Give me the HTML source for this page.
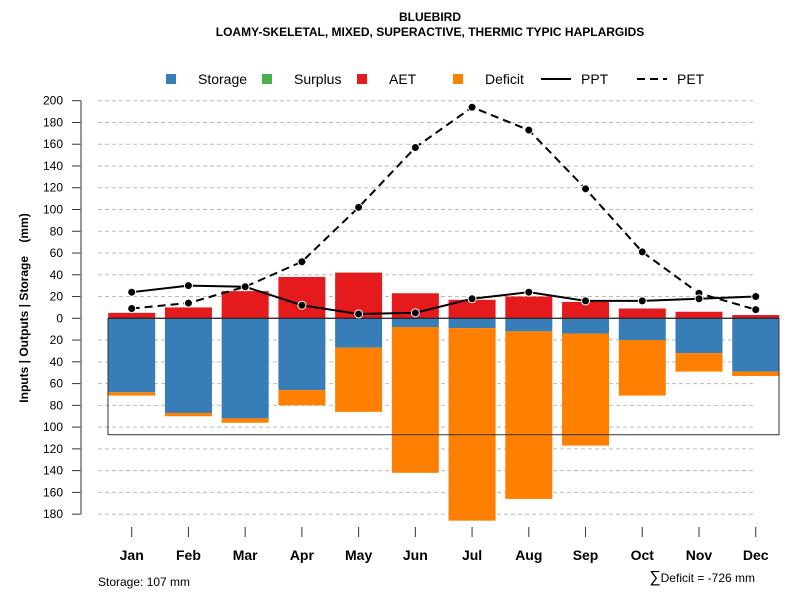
<!DOCTYPE html>
<html><head><meta charset="utf-8"><style>
body{margin:0;background:#fff;font-family:"Liberation Sans",sans-serif}
svg{display:block}
</style></head><body>
<svg id="c" width="800" height="600" font-family="Liberation Sans, sans-serif">
<text x="430" y="21" text-anchor="middle" font-size="12" font-weight="bold">BLUEBIRD</text>
<text x="430" y="36" text-anchor="middle" font-size="12" font-weight="bold">LOAMY-SKELETAL, MIXED, SUPERACTIVE, THERMIC TYPIC HAPLARGIDS</text>
<text transform="translate(28,308) rotate(-90)" text-anchor="middle" font-size="12" font-weight="bold">Inputs | Outputs | Storage &#160;&#160;&#160;(mm)</text>
<text x="98" y="586" font-size="12">Storage: 107 mm</text>
<text x="755" y="582" text-anchor="end" font-size="12"><tspan font-size="16">∑</tspan>Deficit = -726 mm</text>
<g id="legend"></g>
<g id="grid"></g><g id="bars"></g><g id="lines"></g><g id="axes"></g>
</svg>
<script>
const months=["Jan","Feb","Mar","Apr","May","Jun","Jul","Aug","Sep","Oct","Nov","Dec"];
const aet=[5,10,25,38,42,23,17,20,15,9,6,3];
const storage=[68,87,92,66,27,8,9,12,14,20,32,49];
const deficit=[3,3,4,14,59,134,177,154,103,51,17,4];
const ppt=[24,30,29,12,4,5,18,24,16,16,18,20];
const pet=[9,14,29,52,102,157,194,173,119,61,23,8];
const yTicks=[200,180,160,140,120,100,80,60,40,20,0,20,40,60,80,100,120,140,160,180];
const storageCap=107;
const NS="http://www.w3.org/2000/svg";
function y(v){return 318.3-v*1.088;}
function x(i){return 131.7+i*56.73;}
function mk(p,t,a){const e=document.createElementNS(NS,t);for(const k in a)e.setAttribute(k,a[k]);p.appendChild(e);return e;}
const G=document.getElementById('grid'),B=document.getElementById('bars'),L=document.getElementById('lines'),A=document.getElementById('axes'),LG=document.getElementById('legend');
yTicks.forEach((t,i)=>{const v=i<=10?t:-t;const yy=y(v);
 if(v!==0){const g=mk(G,'line',{x1:98,x2:755,y1:yy,y2:yy,stroke:'#bbb','stroke-dasharray':'4,3'});
 }
 const tk=mk(A,'line',{x1:72,x2:81,y1:yy,y2:yy,stroke:'#333'});
 
 const tx=mk(A,'text',{x:63,y:yy+4,'text-anchor':'end','font-size':12});tx.textContent=t;
 });
const ax=mk(A,'line',{x1:81,x2:81,y1:y(200),y2:y(-180),stroke:'#777','stroke-width':1.5});

const hw=23.5;
months.forEach((m,i)=>{const cx=x(i);
 let r=mk(B,'rect',{x:cx-hw,y:y(aet[i]),width:hw*2,height:y(0)-y(aet[i]),fill:'#e41a1c'});
 
 r=mk(B,'rect',{x:cx-hw,y:y(0),width:hw*2,height:y(-storage[i])-y(0),fill:'#377eb8'});
 
 r=mk(B,'rect',{x:cx-hw,y:y(-storage[i]),width:hw*2,height:y(-storage[i]-deficit[i])-y(-storage[i]),fill:'#ff7f00'});
 
 const t=mk(A,'line',{x1:cx,x2:cx,y1:527,y2:537,stroke:'#333'});
 
 const tx=mk(A,'text',{x:cx,y:560,'text-anchor':'middle','font-size':14,'font-weight':'bold'});tx.textContent=m;
 });
const zl=mk(B,'line',{x1:108,x2:779,y1:y(0),y2:y(0),stroke:'#000','stroke-width':1.2});

const box=mk(B,'rect',{x:108,y:y(0),width:671,height:y(-storageCap)-y(0),fill:'none',stroke:'#333'});

function series(vals,dash,name){const p=mk(L,'polyline',{points:vals.map((v,i)=>x(i)+','+y(v)).join(' '),fill:'none',stroke:'#000','stroke-width':2,'stroke-dasharray':dash});
 
 vals.forEach((v,i)=>{const c=mk(L,'circle',{cx:x(i),cy:y(v),r:4,fill:'#000',stroke:'#fff','stroke-width':1});
 });}
series(pet,'8,5','pet');series(ppt,'none','ppt');
const leg=[["Storage","#377eb8",166],["Surplus","#4daf4a",262],["AET","#e41a1c",357],["Deficit","#ff7f00",453]];
leg.forEach(l=>{const r=mk(LG,'rect',{x:l[2],y:74,width:10,height:10,fill:l[1]});
 
 const t=mk(LG,'text',{x:l[2]+32,y:84,'font-size':14});t.textContent=l[0];
 });
[["PPT","none",541],["PET","8,5",637]].forEach(l=>{const ln=mk(LG,'line',{x1:l[2],x2:l[2]+30,y1:79,y2:79,stroke:'#000','stroke-width':2,'stroke-dasharray':l[1]});
 
 const t=mk(LG,'text',{x:l[2]+40,y:84,'font-size':14});t.textContent=l[0];
 });
</script>
</body></html>
